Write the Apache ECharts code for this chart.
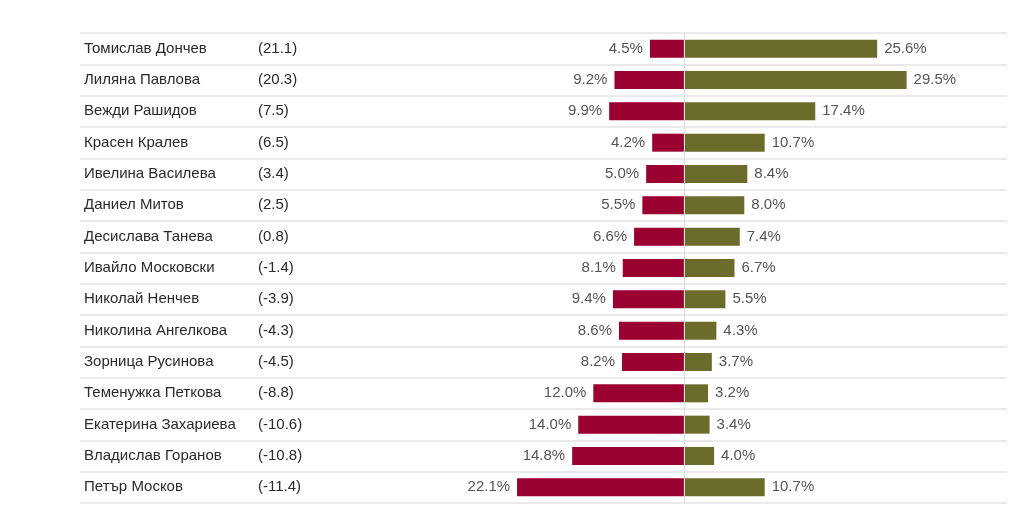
<!DOCTYPE html>
<html><head><meta charset="utf-8">
<script src="https://cdn.jsdelivr.net/npm/echarts@6/dist/echarts.min.js"></script>
<style>html,body{margin:0;padding:0;background:#fff}#c{width:1024px;height:506px}</style>
</head><body><div id="c"></div>
<script>
const names = ["Томислав Дончев","Лиляна Павлова","Вежди Рашидов","Красен Кралев","Ивелина Василева","Даниел Митов","Десислава Танева","Ивайло Московски","Николай Ненчев","Николина Ангелкова","Зорница Русинова","Теменужка Петкова","Екатерина Захариева","Владислав Горанов","Петър Москов"];
const balance = ["21.1","20.3","7.5","6.5","3.4","2.5","0.8","-1.4","-3.9","-4.3","-4.5","-8.8","-10.6","-10.8","-11.4"];
const negative = [4.5,9.2,9.9,4.2,5.0,5.5,6.6,8.1,9.4,8.6,8.2,12.0,14.0,14.8,22.1];
const positive = [25.6,29.5,17.4,10.7,8.4,8.0,7.4,6.7,5.5,4.3,3.7,3.2,3.4,4.0,10.7];

const chart = echarts.init(document.getElementById('c'));
const font = '"Liberation Sans", Arial, sans-serif';
const fs = 15;
chart.setOption({
  animation:false,
  grid:{left:80,right:17,top:33,bottom:3,containLabel:false},
  xAxis:{type:'value',min:-80,max:42.8,show:false},
  yAxis:{type:'category',inverse:true,data:names.map((n,i)=>n+'|'+balance[i]),
    axisLine:{show:false},axisTick:{show:false},
    splitLine:{show:true,lineStyle:{color:'#e3e3e3',width:1.5}},
    axisLabel:{inside:true,margin:4,fontFamily:font,fontSize:fs,color:'#2a2a2a',
      formatter:v=>{const p=v.split('|');return '{n|'+p[0]+'}{v|('+p[1]+')}';},
      rich:{n:{width:174,fontFamily:font,fontSize:fs,color:'#2a2a2a'},v:{fontFamily:font,fontSize:fs,color:'#2a2a2a'}}}
  },
  series:[
    {type:'bar',stack:'s',barWidth:18,data:negative.map(v=>-v),
     itemStyle:{color:'#9a0030'},
     label:{show:true,position:'left',distance:7,fontFamily:font,fontSize:fs,color:'#555',formatter:p=>Math.abs(p.value).toFixed(1)+'%'},
     markLine:{silent:true,symbol:'none',label:{show:false},lineStyle:{color:'#dcdcdc',type:'solid',width:1},data:[{xAxis:0}]}},
    {type:'bar',stack:'s',barWidth:18,data:positive,
     itemStyle:{color:'#6b6b2b'},
     label:{show:true,position:'right',distance:7,fontFamily:font,fontSize:fs,color:'#555',formatter:p=>p.value.toFixed(1)+'%'}}
  ]
});
</script></body></html>
